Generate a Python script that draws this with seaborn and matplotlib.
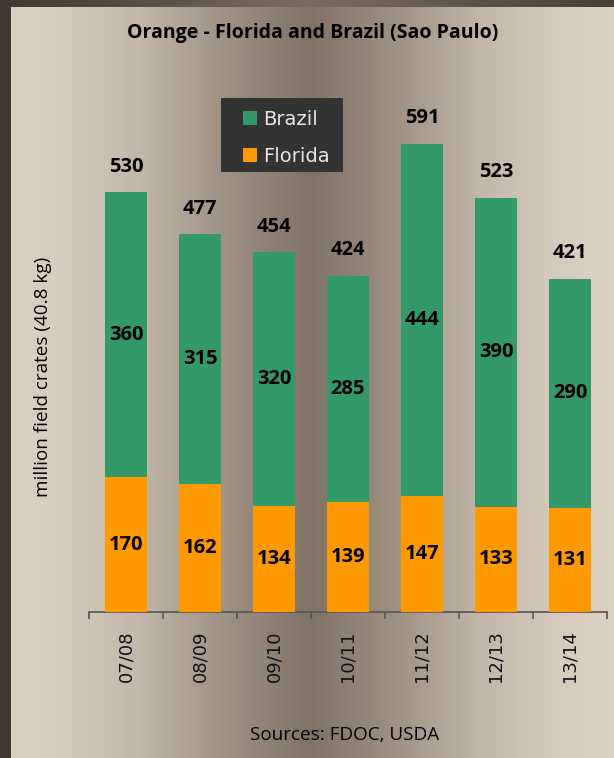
import numpy as np
import pandas as pd
import matplotlib
matplotlib.use("Agg")
import matplotlib.pyplot as plt
from matplotlib.patches import Patch, Rectangle
import seaborn as sns

# Orange production, million field crates (40.8 kg)
seasons = ["07/08", "08/09", "09/10", "10/11", "11/12", "12/13", "13/14"]
brazil = [360, 315, 320, 285, 444, 390, 290]
florida = [170, 162, 134, 139, 147, 133, 131]
totals = [530, 477, 454, 424, 591, 523, 421]

GREEN = "#339966"
ORANGE = "#ff9900"

sns.set_theme(style="white")
plt.rcParams["font.family"] = ["Open Sans", "DejaVu Sans"]

W, H = 614, 758
fig = plt.figure(figsize=(W / 100, H / 100), dpi=100)

# ---- backdrop: slide frame plus a horizontal beige/brown gradient ----
bg = fig.add_axes([0, 0, 1, 1], zorder=0)
bg.set_axis_off()
xs = np.arange(W)
light = np.array([0xdc, 0xd1, 0xc1]) / 255
dark = np.array([0x80, 0x72, 0x64]) / 255
t = np.interp(xs, [11, 60, 140, 220, 310, 400, 480, 560, 614],
              [0.0, 0.05, 0.28, 0.65, 1.0, 0.65, 0.28, 0.05, 0.0])
row = light[None, :] * (1 - t[:, None]) + dark[None, :] * t[:, None]
img = np.repeat(row[None, :, :], H, axis=0)
frame_dark = np.array([0x40, 0x37, 0x30]) / 255
frame_mid = np.array([0x7a, 0x6c, 0x5f]) / 255
ft = np.interp(xs, [0, 307, 614], [0.0, 1.0, 0.15])
top_row = frame_dark[None, :] * (1 - ft[:, None]) + frame_mid[None, :] * ft[:, None]
img[:7, :, :] = top_row[None, :, :]
img[:, :11, :] = frame_dark
bg.imshow(img, extent=[0, 1, 0, 1], aspect="auto", interpolation="bilinear")
bg.set_xlim(0, 1)
bg.set_ylim(0, 1)

# ---- main chart ----
px_per_unit = 0.792
ymax = 650
ax_bottom = 612
ax_h = ymax * px_per_unit
ax = fig.add_axes([89 / W, (H - ax_bottom) / H, 518 / W, ax_h / H], zorder=2)
ax.set_facecolor("none")

df = pd.DataFrame({"season": seasons, "Brazil": brazil,
                   "Florida": florida, "total": totals})

# stacked bars: full total in green, Florida drawn over its lower part
sns.barplot(data=df, x="season", y="total", color=GREEN, width=0.57,
            saturation=1, ax=ax, zorder=2, edgecolor="none", linewidth=0)
sns.barplot(data=df, x="season", y="Florida", color=ORANGE, width=0.57,
            saturation=1, ax=ax, zorder=3, edgecolor="none", linewidth=0)

ax.set_xlim(-0.5, len(seasons) - 0.5)
ax.set_ylim(0, ymax)
for side in ["top", "right", "left"]:
    ax.spines[side].set_visible(False)
ax.spines["bottom"].set_color("#555555")
ax.spines["bottom"].set_linewidth(1.2)
ax.set_yticks([])
ax.set_xlabel("")
ax.set_ylabel("")

ax.set_xticks(range(len(seasons)))
ax.set_xticklabels(seasons, rotation=90, fontsize=13,
                   family="DejaVu Sans", color="#111111")
ax.set_xticks(np.arange(-0.5, len(seasons), 1.0), minor=True)
ax.tick_params(axis="x", which="major", bottom=True, length=0, pad=13)
ax.tick_params(axis="x", which="minor", bottom=True, length=5, width=1.2,
               color="#555555", direction="out")

label_kw = dict(ha="center", va="center", fontsize=14.5,
                fontweight="bold", color="black", zorder=5)
for i in range(len(seasons)):
    ax.text(i, florida[i] / 2, f"{florida[i]}", **label_kw)
    ax.text(i, florida[i] + brazil[i] / 2, f"{brazil[i]}", **label_kw)
    ax.annotate(f"{totals[i]}", (i, totals[i]), xytext=(0, 18.5),
                textcoords="offset points", **label_kw)

# ---- titles and notes ----
fig.text(313 / W, 1 - 33 / H, "Orange - Florida and Brazil (Sao Paulo)",
         ha="center", va="center", fontsize=14, fontweight="bold",
         color="black")
fig.text(43 / W, 1 - 377 / H, "million field crates (40.8 kg)",
         ha="center", va="center", rotation=90, fontsize=13.6,
         color="black")
fig.text(345 / W, 1 - 735 / H, "Sources: FDOC, USDA",
         ha="center", va="center", fontsize=13.6, color="black")

# ---- legend: dark panel with the two series keys ----
fig.patches.append(Rectangle((221 / W, 1 - 172 / H), 122 / W, 74 / H,
                             transform=fig.transFigure, facecolor="#333333",
                             edgecolor="none", zorder=5))
handles = [Patch(facecolor=GREEN, edgecolor="none", label="Brazil"),
           Patch(facecolor=ORANGE, edgecolor="none", label="Florida")]
leg = fig.legend(handles=handles, loc="upper left",
                 bbox_to_anchor=(243 / W, 1 - 110 / H), borderaxespad=0,
                 frameon=False, borderpad=0,
                 prop={"family": "DejaVu Sans", "size": 14},
                 handlelength=0.72, handleheight=0.72, handletextpad=0.3,
                 labelspacing=0.9)
leg.set_zorder(6)
for txt in leg.get_texts():
    txt.set_color("#e6e6e6")

fig.savefig("out.png", dpi=100)
